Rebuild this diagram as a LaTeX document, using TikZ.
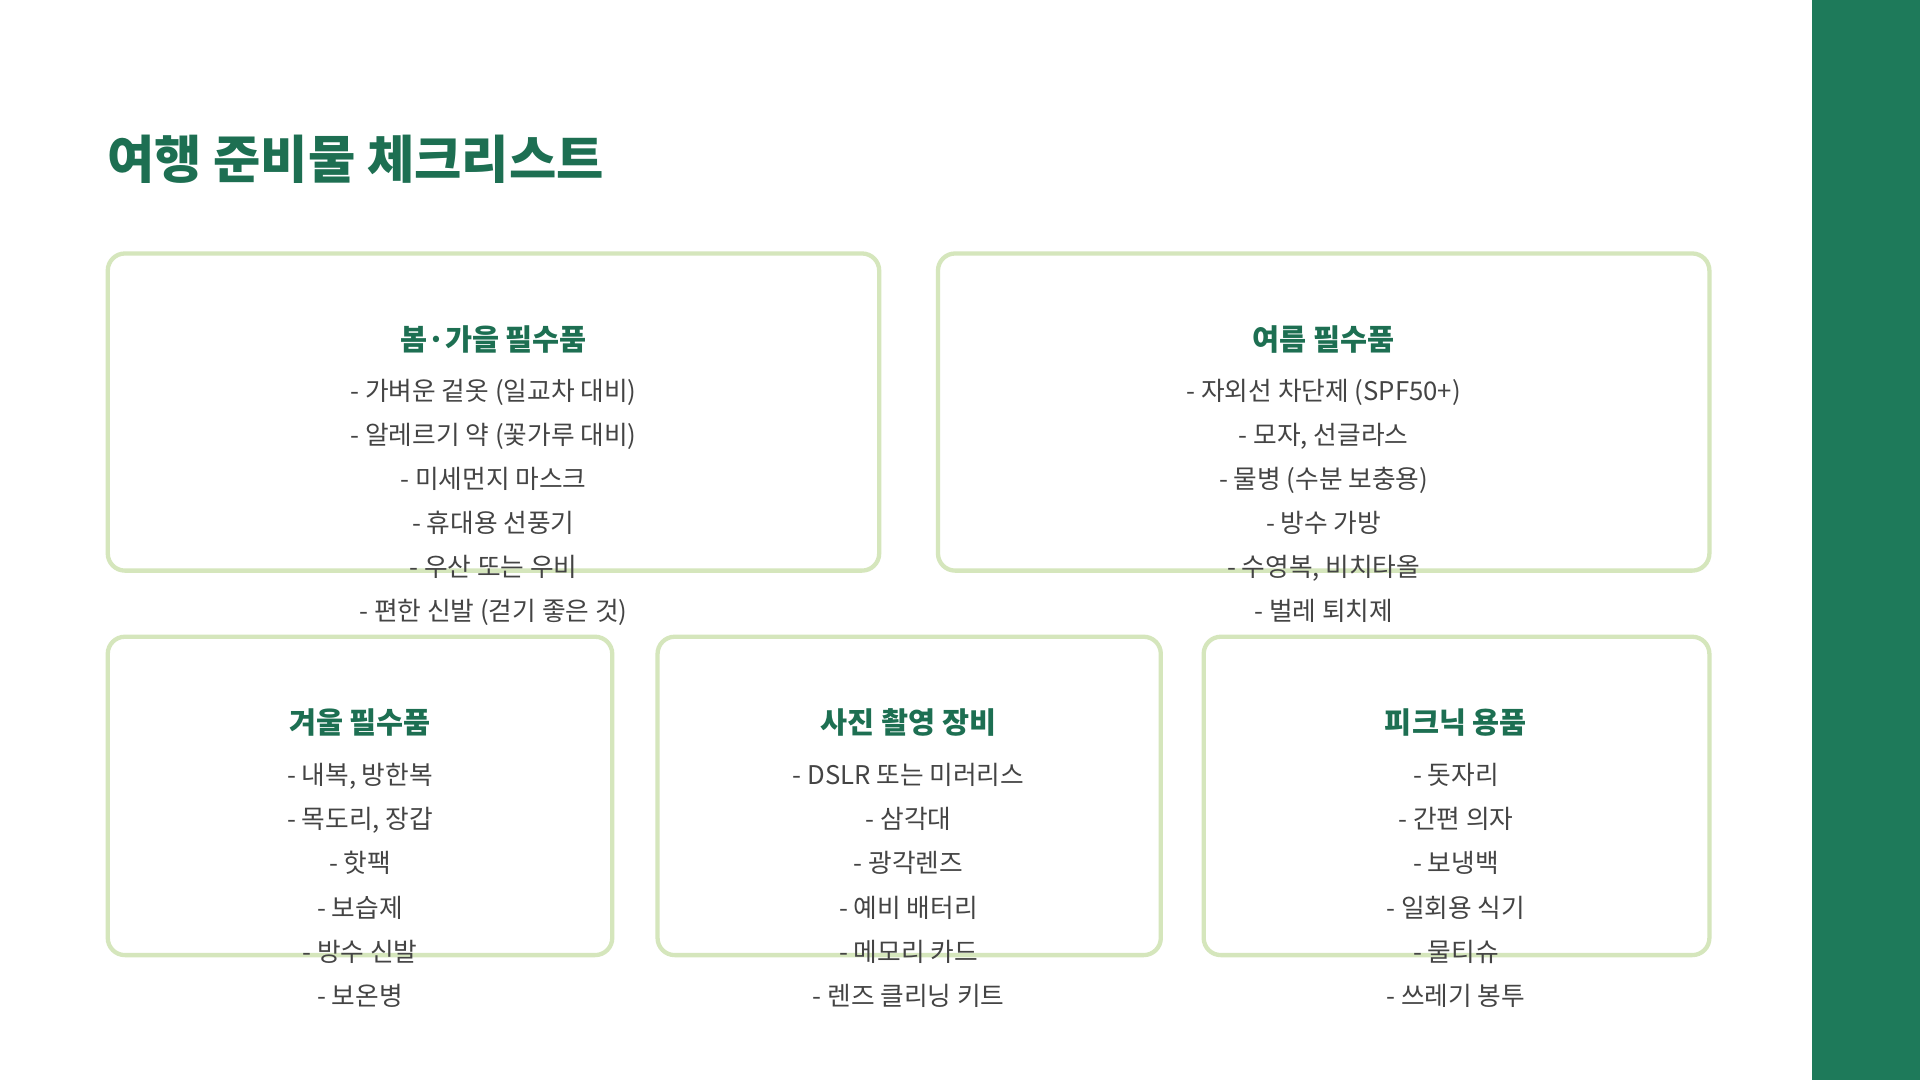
\documentclass[tikz,border=0pt]{standalone}
\usepackage{fontspec}
\setmainfont{Noto Sans CJK KR}
\definecolor{dkg}{HTML}{1E7A5A}
\definecolor{ttl}{HTML}{1D6F52}
\definecolor{bx}{HTML}{D5E6BC}
\definecolor{txt}{HTML}{444444}
\begin{document}
\begin{tikzpicture}[x=1pt,y=-1pt,
 card/.style={draw=bx,line width=3.5pt,rounded corners=14pt,fill=white},
 head/.style={font=\fontsize{24}{28}\selectfont\bfseries,text=ttl,anchor=center},
 items/.style={font=\fontsize{21}{36}\selectfont,text=txt,align=center,anchor=north}]
\useasboundingbox (0,0) rectangle (1568,882);
\fill[white] (0,0) rectangle (1568,882);
\fill[dkg] (1480,0) rectangle (1568,882);
\node[anchor=west,font=\fontsize{42}{48}\selectfont\bfseries,text=ttl] (title) at (84,130) {여행 준비물 체크리스트};
\draw[card] (88,207) rectangle (718,466);
\draw[card] (766,207) rectangle (1396,466);
\draw[card] (88,520) rectangle (500,780);
\draw[card] (537,520) rectangle (948,780);
\draw[card] (983,520) rectangle (1396,780);
\node[head] (h1) at (403,277) {봄·가을 필수품};
\node[items] (i1) at (403,306) {- 가벼운 겉옷 (일교차 대비)\\- 알레르기 약 (꽃가루 대비)\\- 미세먼지 마스크\\- 휴대용 선풍기\\- 우산 또는 우비\\- 편한 신발 (걷기 좋은 것)};
\node[head] (h2) at (1081,277) {여름 필수품};
\node[items] (i2) at (1081,306) {- 자외선 차단제 (SPF50+)\\- 모자, 선글라스\\- 물병 (수분 보충용)\\- 방수 가방\\- 수영복, 비치타올\\- 벌레 퇴치제};
\node[head] (h3) at (294,590) {겨울 필수품};
\node[items] (i3) at (294,620) {- 내복, 방한복\\- 목도리, 장갑\\- 핫팩\\- 보습제\\- 방수 신발\\- 보온병};
\node[head] (h4) at (742,590) {사진 촬영 장비};
\node[items] (i4) at (742,620) {- DSLR 또는 미러리스\\- 삼각대\\- 광각렌즈\\- 예비 배터리\\- 메모리 카드\\- 렌즈 클리닝 키트};
\node[head] (h5) at (1189,590) {피크닉 용품};
\node[items] (i5) at (1189,620) {- 돗자리\\- 간편 의자\\- 보냉백\\- 일회용 식기\\- 물티슈\\- 쓰레기 봉투};
\end{tikzpicture}
\end{document}
